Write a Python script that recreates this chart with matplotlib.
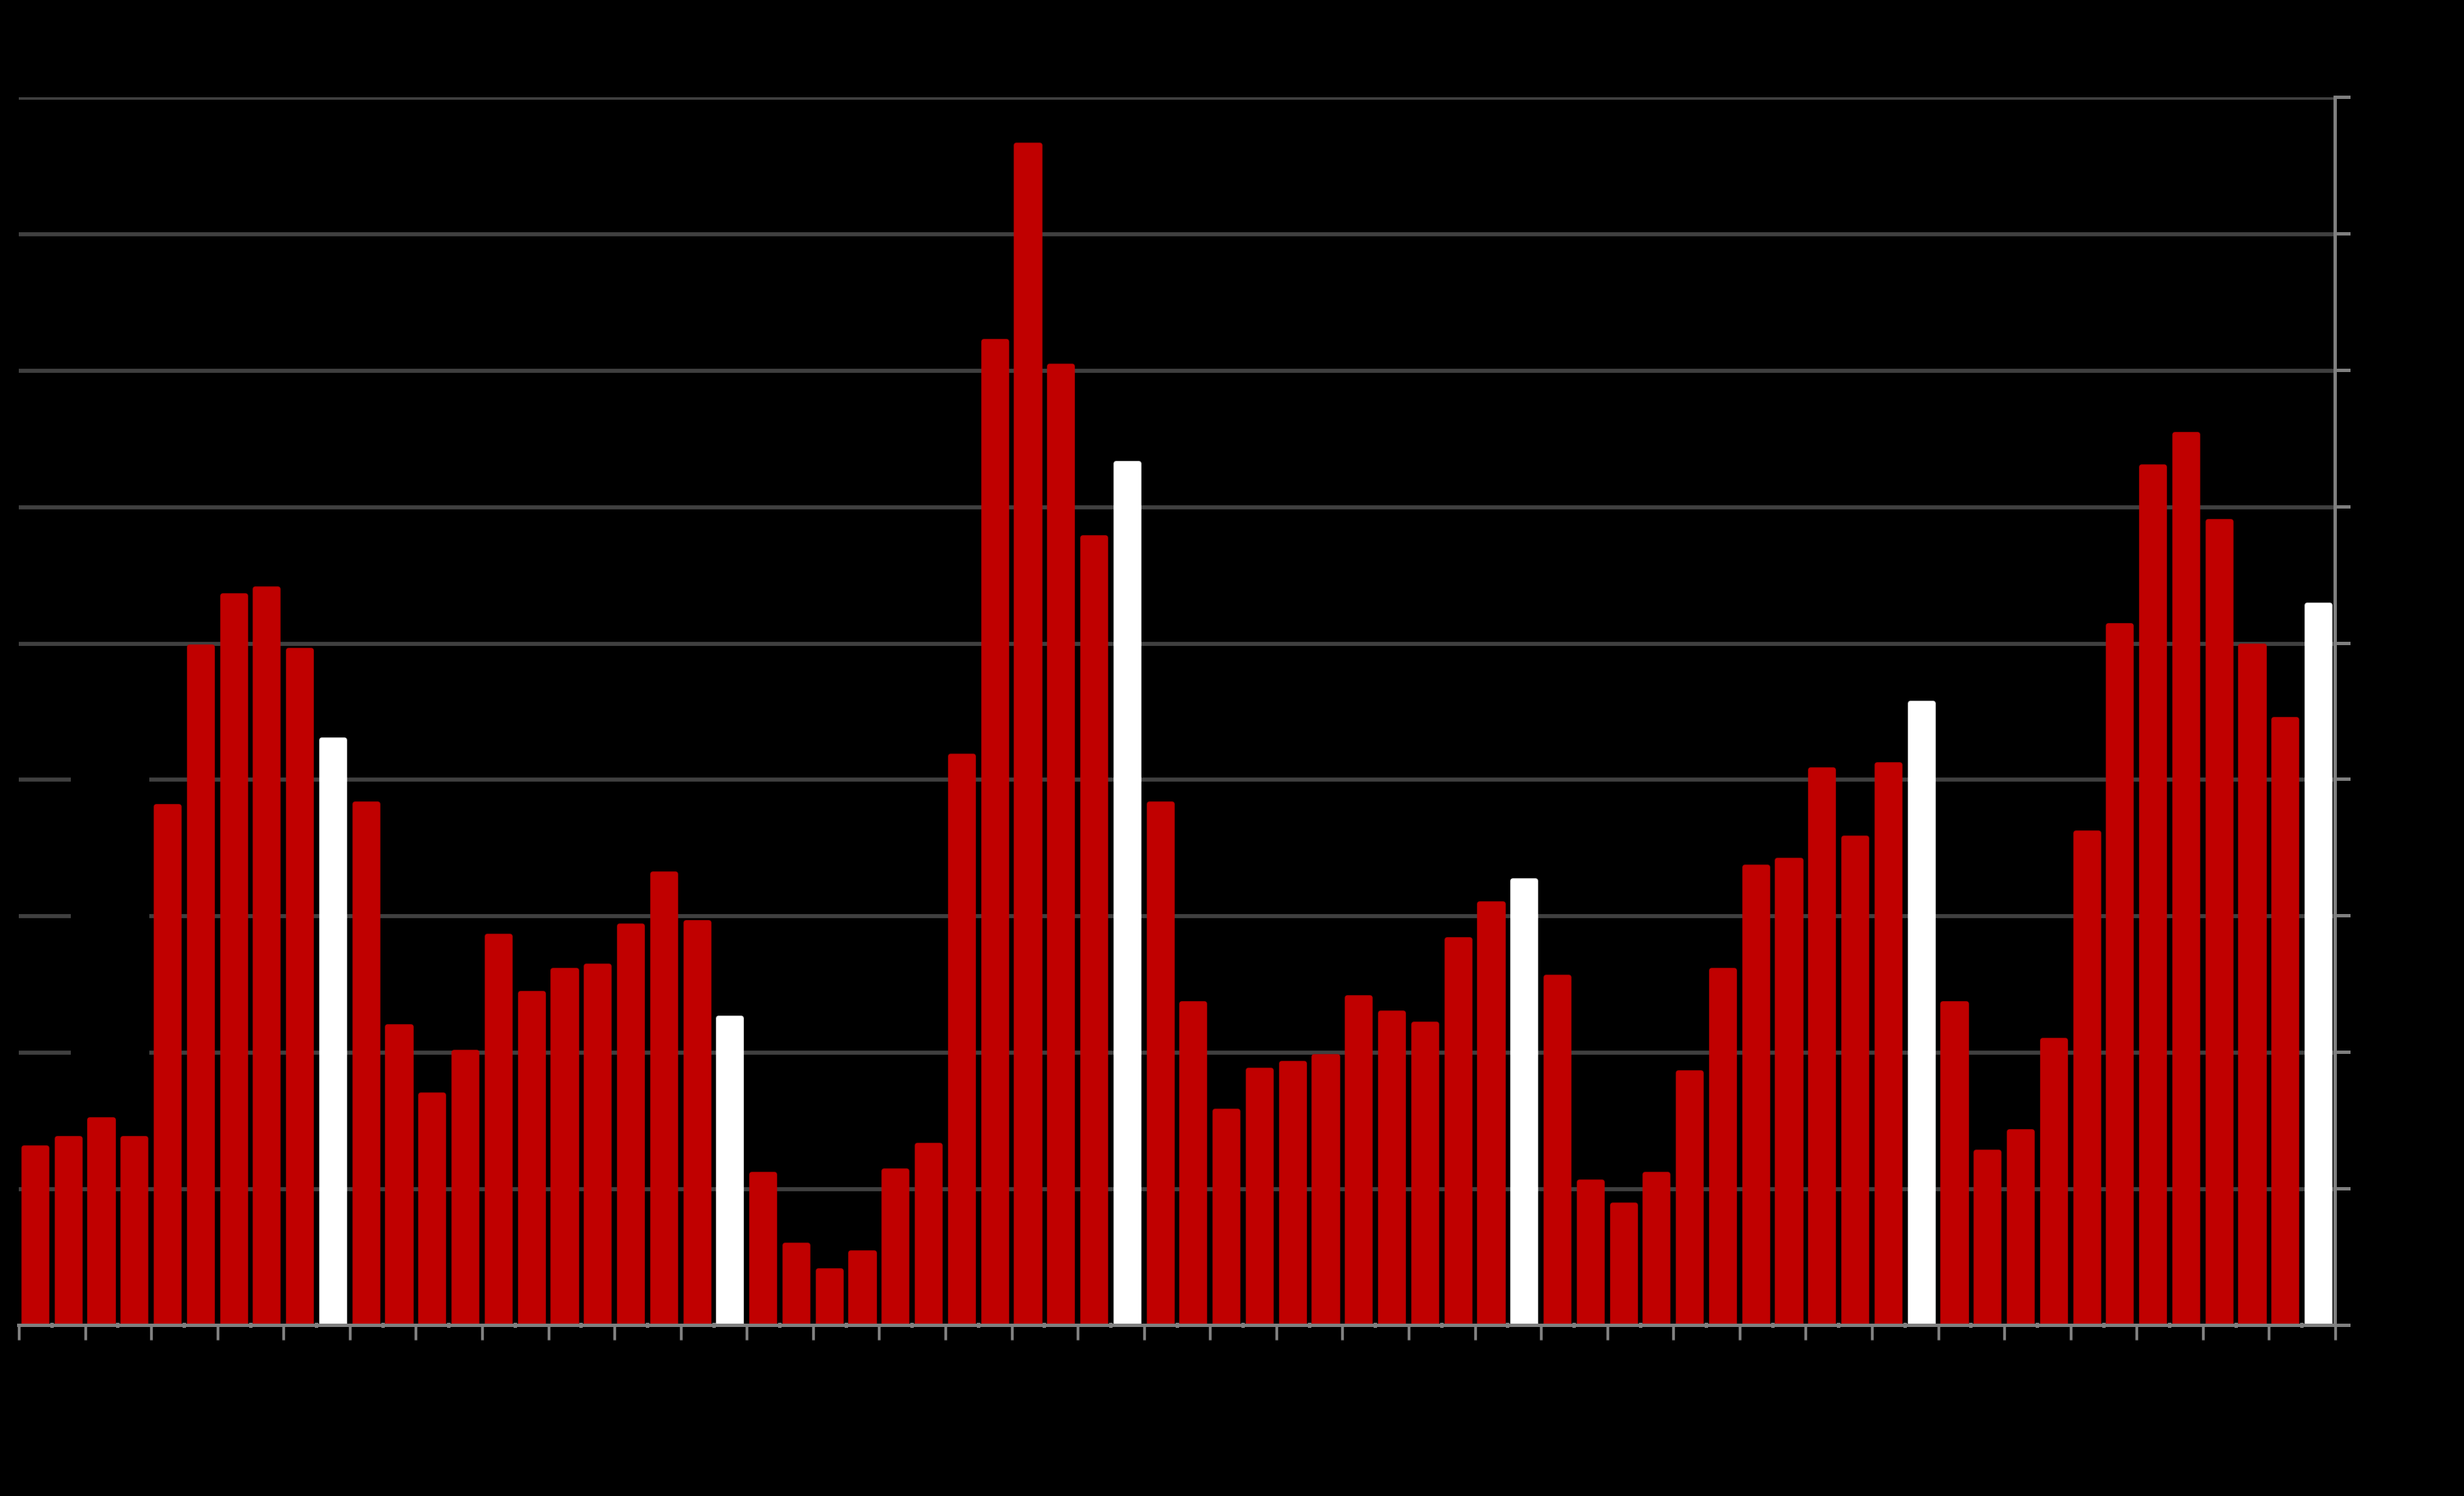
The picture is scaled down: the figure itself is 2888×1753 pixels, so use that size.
import matplotlib
matplotlib.use("Agg")
import matplotlib.pyplot as plt
import numpy as np
from matplotlib.patches import Rectangle

# Monthly values (in gridline units, 0-9); every 12th bar highlighted
values = [1.30, 1.37, 1.51, 1.37, 3.80, 4.97, 5.35, 5.40, 4.95, 4.29,
          3.82, 2.19, 1.69, 2.00, 2.85, 2.43, 2.60, 2.63, 2.93, 3.31,
          2.95, 2.25, 1.11, 0.59, 0.40, 0.53, 1.13, 1.32, 4.17, 7.21,
          8.65, 7.03, 5.77, 6.32, 3.82, 2.36, 1.57, 1.87, 1.92, 1.97,
          2.40, 2.29, 2.21, 2.83, 3.09, 3.26, 2.55, 1.05, 0.88, 1.11,
          1.85, 2.60, 3.36, 3.41, 4.07, 3.57, 4.11, 4.56, 2.36, 1.27,
          1.42, 2.09, 3.61, 5.13, 6.29, 6.53, 5.89, 4.98, 4.44, 5.28]
highlight = [9, 21, 33, 45, 57, 69]
y_ticks = list(range(0, 10))

RED = "#c00000"
WHITE = "#ffffff"
GRID = "#404040"
SPINE = "#808080"

n = len(values)
x = np.arange(n)
colors = [WHITE if i in highlight else RED for i in range(n)]

fig = plt.figure(figsize=(28.88, 17.53), dpi=100, facecolor="black")
ax = fig.add_axes([22 / 2888, 1 - 1553 / 1753, (2737 - 22) / 2888, (1553 - 114) / 1753])
ax.set_facecolor("black")

ax.bar(x, values, width=0.70, color=colors, edgecolor=colors, linewidth=4,
       joinstyle="round", zorder=3)

ax.set_xlim(-0.5, n - 0.5)
ax.set_ylim(0, 9)

# gridlines
ax.set_yticks(y_ticks)
ax.yaxis.grid(True, color=GRID, linewidth=3.4, zorder=0)
ax.set_axisbelow(True)

# invisible black box occluding part of the gridlines
ax.add_patch(Rectangle((0.0225, 0.18), 0.034, 0.33, transform=ax.transAxes,
                       facecolor="black", edgecolor="none", zorder=1))

# spines
for s in ["left", "top"]:
    ax.spines[s].set_visible(False)
ax.spines["bottom"].set_color(SPINE)
ax.spines["bottom"].set_linewidth(2.8)
ax.spines["bottom"].set_zorder(4)
ax.spines["right"].set_color(SPINE)
ax.spines["right"].set_linewidth(2.8)

ax.yaxis.tick_right()
ax.tick_params(axis="y", which="major", direction="out", length=13, width=2.8,
               color=SPINE, labelright=False, labelleft=False, left=False)

ax.set_xticks(np.arange(-0.5, n, 2))
ax.set_xticks(np.arange(-0.5, n, 1), minor=True)
ax.tick_params(axis="x", which="major", direction="out", length=12, width=2.4,
               color=SPINE, labelbottom=False)
ax.tick_params(axis="x", which="minor", direction="inout", length=5, width=2.8,
               color=SPINE)

fig.savefig("out.png", dpi=100, facecolor="black")
